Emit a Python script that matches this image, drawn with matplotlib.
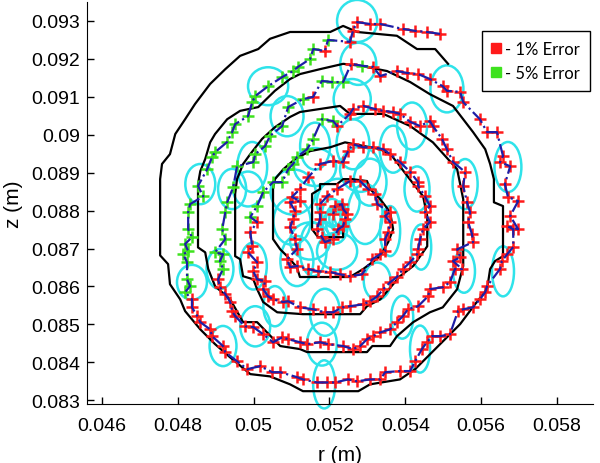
import numpy as np
import matplotlib.pyplot as plt
from matplotlib.patches import Ellipse
from matplotlib.lines import Line2D

# everything below is in mm, converted to m when drawn

# stepped reference spiral (black)
spiral_r = [55.13, 54.79, 54.31, 53.78, 52.73, 52.36, 52.02, 50.96, 50.43, 50.12,
            49.64, 49.25, 48.85, 48.45, 48.19, 47.93, 47.79, 47.58, 47.53, 47.53,
            47.74, 47.79, 48.06, 48.19, 48.59, 48.98, 49.38, 49.91, 50.43, 50.96,
            51.30, 52.76, 53.07, 53.86, 54.26, 54.79, 55.45, 55.84, 56.16, 56.24,
            56.37, 56.58, 56.58, 56.34, 56.34, 56.24, 56.11, 55.79, 55.26, 54.65,
            54.13, 53.52, 52.81, 52.36,
            51.75, 51.22, 50.96, 50.56, 50.12, 49.64, 49.30, 48.98, 48.85, 48.72,
            48.59, 48.53, 48.53, 48.72, 48.80, 48.98, 49.38, 49.72, 50.09, 50.35,
            50.70, 51.22, 51.41, 52.99, 53.13, 53.60, 53.78, 54.21, 54.65, 54.99,
            55.37, 55.53, 55.53, 55.37, 54.73, 54.13, 53.42, 52.54, 52.28,
            51.22, 50.96, 50.56, 50.22, 49.91, 49.72, 49.56, 49.51, 49.51, 49.64,
            49.72, 49.99, 50.09, 50.25, 50.62, 51.30, 52.81, 52.99, 53.34, 53.86,
            54.21, 54.58, 54.58, 54.47, 54.18, 53.65, 53.34,
            52.41, 52.02, 51.49, 51.09, 50.78, 50.56, 50.51, 50.51, 50.70, 50.88,
            51.14, 51.22, 52.54, 52.89, 53.34, 53.55, 53.68, 53.60, 53.34, 53.07,
            52.99,
            52.60, 52.36, 52.20, 51.75, 51.75, 51.54, 51.54, 51.70, 52.36, 52.36]
spiral_z = [91.87, 92.26, 92.26, 92.61, 92.71, 92.87, 92.71, 92.71, 92.53, 92.26,
            92.08, 91.73, 91.34, 90.81, 90.41, 90.02, 89.49, 89.23, 88.83, 86.82,
            86.59, 86.06, 85.66, 85.35, 84.87, 84.48, 84.13, 83.69, 83.63, 83.42,
            83.24, 83.24, 83.42, 83.55, 83.82, 84.35, 85.01, 85.53, 85.93, 86.46,
            86.67, 86.80, 88.12, 88.22, 88.83, 89.23, 89.62, 90.07, 90.76, 91.07,
            91.39, 91.68, 91.82, 91.87,
            91.73, 91.60, 91.47, 91.16, 90.73, 90.63, 90.41, 90.02, 89.80, 89.36,
            89.04, 88.70, 87.03, 86.90, 86.46, 86.01, 85.66, 85.06, 85.06, 84.79,
            84.43, 84.35, 84.27, 84.27, 84.43, 84.43, 84.69, 85.06, 85.32, 85.45,
            85.93, 86.54, 88.30, 89.09, 89.80, 90.23, 90.55, 90.55, 90.76,
            90.60, 90.47, 90.20, 89.89, 89.49, 89.23, 88.83, 88.44, 86.80, 86.72,
            86.27, 86.19, 85.93, 85.59, 85.32, 85.27, 85.27, 85.48, 85.66, 86.27,
            86.54, 87.06, 87.85, 88.38, 88.75, 89.44, 89.62,
            89.80, 89.67, 89.57, 89.36, 89.09, 88.83, 88.57, 87.25, 86.98, 86.80,
            86.51, 86.25, 86.25, 86.46, 86.80, 87.17, 87.51, 87.96, 88.30, 88.57,
            88.78,
            88.83, 88.83, 88.70, 88.70, 88.57, 88.44, 87.51, 87.30, 87.30, 87.46]

# estimated trajectory, error level of each point (1 or 5 %)
path_r = [54.92, 54.57, 54.26, 53.94, 53.34, 53.07, 52.73, 52.62, 52.54,
          51.96, 51.88, 51.57, 51.49, 51.17, 51.04, 50.75, 50.38, 50.04, 49.96,
          49.85, 49.51, 49.43, 49.30, 48.98, 48.90, 48.77, 48.53, 48.67, 48.32,
          48.27, 48.27, 48.37, 48.19, 48.27, 48.14, 48.24, 48.24, 48.32, 48.19,
          48.37, 48.37, 48.51, 48.59, 48.85, 48.90, 49.19, 49.25, 49.56, 49.83,
          50.17, 50.49, 50.70, 51.14, 51.30, 51.67, 51.94, 52.15, 52.49, 52.73,
          53.07, 53.34, 53.47, 53.86, 54.13, 54.26, 54.44, 54.57, 54.71, 54.92,
          55.18, 55.39, 55.53, 55.79, 55.97, 56.11, 56.16, 56.50, 56.55, 56.69,
          56.85, 56.85, 56.69, 56.98, 56.77, 56.98, 56.71, 56.63, 56.77, 56.50,
          56.58, 56.42, 56.16, 55.97, 55.53, 55.45, 55.10, 54.99, 54.65, 54.34,
          54.05, 53.78, 53.34, 53.15, 52.86, 52.57,
          52.36, 52.07, 51.80, 51.57, 51.30, 50.91, 50.75, 50.43, 50.30, 50.04,
          49.99, 49.56, 49.46, 49.30, 49.25, 49.17, 49.25, 48.98, 49.19, 49.11,
          49.19,
          49.06, 49.11, 49.25, 49.38, 49.43, 49.51, 49.77, 49.99, 50.25, 50.51,
          50.75, 50.91, 51.22, 51.41, 51.75, 51.96, 52.36, 52.62, 52.81, 52.99,
          53.15, 53.34, 53.60, 53.78, 53.94, 54.07, 54.34, 54.60, 54.65, 54.99,
          55.18, 55.31, 55.50, 55.26, 55.45, 55.37, 55.79, 55.76, 55.66, 55.71,
          55.63, 55.53, 55.58, 55.26, 55.10, 54.97, 54.73, 54.65, 54.39, 54.13,
          53.86, 53.68, 53.42, 53.20, 52.89, 52.62, 52.54,
          52.20, 52.10, 51.80, 51.57, 51.41, 51.14, 51.04, 50.91, 50.75, 50.51,
          50.25, 50.09, 49.91,
          50.09, 49.91, 49.96, 49.85, 50.09, 49.99, 50.09, 50.30, 50.25, 50.38,
          50.51, 50.78, 50.91, 51.22, 51.57, 51.88, 52.10, 52.33, 52.54, 52.89,
          53.07, 53.26, 53.42, 53.60, 53.78, 53.94, 54.13, 54.31, 54.34, 54.39,
          54.47, 54.65, 54.52, 54.65, 54.52, 54.34, 54.34, 54.13, 53.86, 53.60,
          53.42, 53.15, 52.89, 52.62, 52.49, 52.36, 52.10,
          51.75, 51.44, 51.22, 51.01, 51.22, 50.96, 51.09, 51.04, 50.96, 51.09,
          51.14, 50.88, 50.96, 51.14, 51.44, 51.70, 52.02, 52.28, 52.54, 52.86,
          53.13, 53.34, 53.47, 53.47, 53.55, 53.60, 53.47, 53.60, 53.26, 53.20,
          53.02, 52.81, 52.54,
          52.20, 51.94, 51.75, 51.75, 51.75, 51.67, 51.80, 51.88, 52.10, 52.23,
          52.36, 52.41, 52.47, 52.36, 52.33, 52.15, 52.10]
path_z = [92.66, 92.71, 92.74, 92.79, 92.92, 92.92, 92.97, 92.74, 92.45,
          92.50, 92.21, 92.26, 92.00, 91.79, 91.68, 91.52, 91.28, 91.02, 90.86,
          90.49, 90.28, 90.07, 89.81, 89.54, 89.41, 89.09, 88.65, 88.38, 88.17,
          87.96, 87.51, 87.30, 87.12, 86.93, 86.85, 86.64, 86.19, 86.01, 85.85,
          85.66, 85.45, 85.22, 85.06, 84.87, 84.69, 84.43, 84.27, 84.03, 83.82,
          83.90, 83.74, 83.74, 83.61, 83.55, 83.47, 83.47, 83.47, 83.55, 83.50,
          83.55, 83.55, 83.74, 83.77, 83.77, 84.03, 84.35, 84.53, 84.69, 84.69,
          84.74, 85.35, 85.40, 85.45, 85.66, 85.85, 86.01, 86.46, 86.67, 86.85,
          87.04, 87.51, 87.59, 87.51, 87.86, 88.25, 88.36, 88.70, 89.17, 89.28,
          89.44, 90.07, 90.07, 90.41, 90.86, 91.13, 91.16, 91.28, 91.47, 91.60,
          91.63, 91.68, 91.55, 91.79, 91.82, 91.87,
          91.39, 91.39, 91.42, 91.00, 90.94, 90.73, 90.23, 89.97, 89.70, 89.49,
          89.28, 89.17, 88.62, 88.22, 87.96, 87.51, 87.25, 86.90, 86.85, 86.67,
          86.46,
          86.19, 85.98, 85.80, 85.59, 85.35, 85.22, 84.95, 84.93, 84.74, 84.53,
          84.66, 84.61, 84.53, 84.48, 84.53, 84.48, 84.43, 84.35, 84.43, 84.61,
          84.69, 84.79, 84.87, 85.06, 85.22, 85.40, 85.48, 85.74, 85.93, 85.98,
          86.11, 86.46, 86.46, 86.67, 86.77, 86.98, 87.17, 87.38, 87.70, 87.96,
          88.22, 88.65, 89.02, 89.28, 89.62, 89.89, 90.23, 90.36, 90.23, 90.34,
          90.55, 90.60, 90.63, 90.68, 90.76, 90.68, 90.55,
          90.23, 90.36, 90.41, 89.89, 89.62, 89.41, 89.23, 89.09, 88.75, 88.75,
          88.49, 88.12, 87.83,
          87.70, 87.43, 87.06, 86.90, 86.64, 86.40, 86.19, 86.14, 85.93, 85.74,
          85.66, 85.59, 85.61, 85.45, 85.40, 85.32, 85.32, 85.45, 85.48, 85.53,
          85.61, 85.74, 85.93, 86.11, 86.25, 86.46, 86.64, 86.85, 86.98, 87.25,
          87.51, 87.70, 87.96, 88.12, 88.38, 88.65, 88.75, 89.02, 89.28, 89.49,
          89.62, 89.67, 89.67, 89.75, 89.57, 89.28, 89.31,
          89.23, 88.88, 88.57, 88.36, 88.25, 88.22, 87.99, 87.78, 87.56, 87.25,
          86.98, 86.72, 86.51, 86.54, 86.46, 86.40, 86.38, 86.32, 86.27, 86.32,
          86.72, 86.85, 86.93, 87.25, 87.43, 87.70, 87.86, 87.96, 88.17, 88.44,
          88.57, 88.78, 88.78,
          88.57, 88.38, 88.17, 87.96, 87.78, 87.51, 87.30, 87.17, 87.25, 87.51,
          87.59, 87.78, 87.91, 88.04, 88.17, 88.12, 87.91]
path_err = ([1] * 9 + [5, 1] + [5] * 28 + [1] * 64 + [5] + [1] +
            [5, 5, 5, 1] + [5] * 17 +
            [1] * 57 +
            [1] + [5] * 12 +
            [1] * 47 +
            [1] * 33 +
            [1] * 17)

# uncertainty ellipses: centre, width, height
ell_r = [52.73, 52.76, 52.60, 55.10, 56.71, 54.18, 51.62, 52.62, 53.68, 54.31,
         55.58, 56.58, 55.55, 54.42, 53.60, 53.92, 54.39, 53.26, 51.88, 51.86,
         51.80, 48.37, 49.19, 48.59, 49.11, 49.99, 50.04, 50.56, 49.85, 51.01,
         50.38, 50.88, 49.43, 49.96, 51.04, 51.62, 52.23, 51.49, 52.20, 52.94,
         52.81, 52.15, 52.23, 52.07, 52.28, 51.14, 51.57, 53.07, 52.10, 52.28]
ell_z = [93.00, 91.87, 90.94, 91.21, 89.15, 90.23, 89.70, 89.75, 89.62, 88.57,
         88.70, 86.40, 86.40, 87.04, 87.46, 85.19, 84.35, 86.14, 85.32, 83.42,
         84.48, 86.11, 84.43, 88.70, 86.46, 86.54, 84.95, 85.48, 88.57, 87.72,
         91.28, 90.49, 88.57, 89.15, 88.49, 89.15, 88.22, 87.20, 86.93, 87.91,
         89.09, 87.59, 87.78, 87.94, 87.70, 86.67, 86.98, 88.75, 87.72, 87.91]
ell_w = [1.06, 0.95, 0.98, 0.87, 0.71, 0.79, 0.79, 0.87, 0.71, 0.66,
         0.66, 0.58, 0.58, 0.53, 0.53, 0.58, 0.53, 0.71, 0.79, 0.58,
         0.79, 0.79, 0.71, 0.79, 0.71, 0.71, 0.79, 0.61, 0.79, 0.98,
         1.06, 0.87, 0.74, 0.79, 1.19, 1.11, 1.13, 1.06, 1.06, 0.92,
         1.06, 0.66, 0.47, 0.53, 0.40, 0.87, 0.71, 0.87, 0.40, 0.32]
ell_h = [1.11, 1.11, 1.06, 1.24, 1.32, 1.24, 1.24, 1.32, 1.24, 1.19,
         1.32, 1.32, 1.13, 1.19, 1.32, 1.13, 1.24, 0.98, 1.24, 1.27,
         1.13, 0.92, 1.06, 1.06, 1.06, 1.24, 1.06, 1.06, 0.92, 1.24,
         1.00, 1.06, 1.06, 1.32, 1.19, 1.00, 1.24, 0.98, 0.98, 1.58,
         1.19, 0.92, 0.66, 0.74, 0.58, 1.32, 1.42, 1.24, 0.79, 0.66]

x_ticks = [0.046, 0.048, 0.05, 0.052, 0.054, 0.056, 0.058]
x_labels = ["0.046", "0.048", "0.05", "0.052", "0.054", "0.056", "0.058"]
y_ticks = [0.083, 0.084, 0.085, 0.086, 0.087, 0.088, 0.089, 0.09, 0.091, 0.092, 0.093]
y_labels = ["0.083", "0.084", "0.085", "0.086", "0.087", "0.088", "0.089", "0.09",
            "0.091", "0.092", "0.093"]

plt.rcParams["font.family"] = ["Liberation Sans", "DejaVu Sans"]

mm = 1e-3
sr = np.array(spiral_r) * mm
sz = np.array(spiral_z) * mm
pr = np.array(path_r) * mm
pz = np.array(path_z) * mm
err = np.array(path_err)

fig = plt.figure(figsize=(6, 4.64), dpi=100)
ax = fig.add_axes([0.145, 0.127, 0.843, 0.8665])

cyan = "#2fe3ea"
for r, z, w, h in zip(ell_r, ell_z, ell_w, ell_h):
    e = Ellipse((r * mm, z * mm), w * mm, h * mm, fill=False, ec=cyan,
                lw=1.8, zorder=1, clip_on=False)
    ax.add_patch(e)

ax.plot(sr, sz, color="black", lw=1.6, zorder=2)

red = "#ff1a1a"
green = "#3ee21e"
m1 = err == 1
m5 = err == 5
ax.plot(pr[m1], pz[m1], "+", color=red, ms=9, mew=1.8, zorder=3)
ax.plot(pr[m5], pz[m5], "+", color=green, ms=9, mew=1.8, zorder=3)

# dash-dot estimate drawn over the markers, as in the original
ax.plot(pr, pz, linestyle="-.", color="#1e1ea6", lw=1.6, zorder=4)

ax.set_xlim(0.04560, 0.05895)
ax.set_ylim(0.08290, 0.09350)
ax.set_xticks(x_ticks)
ax.set_xticklabels(x_labels)
ax.set_yticks(y_ticks)
ax.set_yticklabels(y_labels)
ax.tick_params(direction="in", length=5, width=1, labelsize=14, pad=5)
ax.tick_params(axis="x", pad=9)
ax.spines["top"].set_visible(False)
ax.spines["right"].set_visible(False)
ax.set_xlabel("r (m)", fontsize=15, labelpad=8)
ax.set_ylabel("z (m)", fontsize=15, labelpad=6)

handles = [Line2D([], [], marker="s", ls="none", color=red, ms=7),
           Line2D([], [], marker="s", ls="none", color=green, ms=7)]
leg = ax.legend(handles, ["- 1% Error", "- 5% Error"], loc="upper right",
                bbox_to_anchor=(0.994, 0.928), borderaxespad=0,
                fancybox=False, framealpha=1,
                edgecolor="black", handlelength=0.5, handletextpad=0.3,
                borderpad=0.6, labelspacing=0.5,
                prop={"family": ["Lato", "DejaVu Sans"], "size": 12})
leg.get_frame().set_linewidth(1.0)

fig.savefig("out.png", dpi=100)
